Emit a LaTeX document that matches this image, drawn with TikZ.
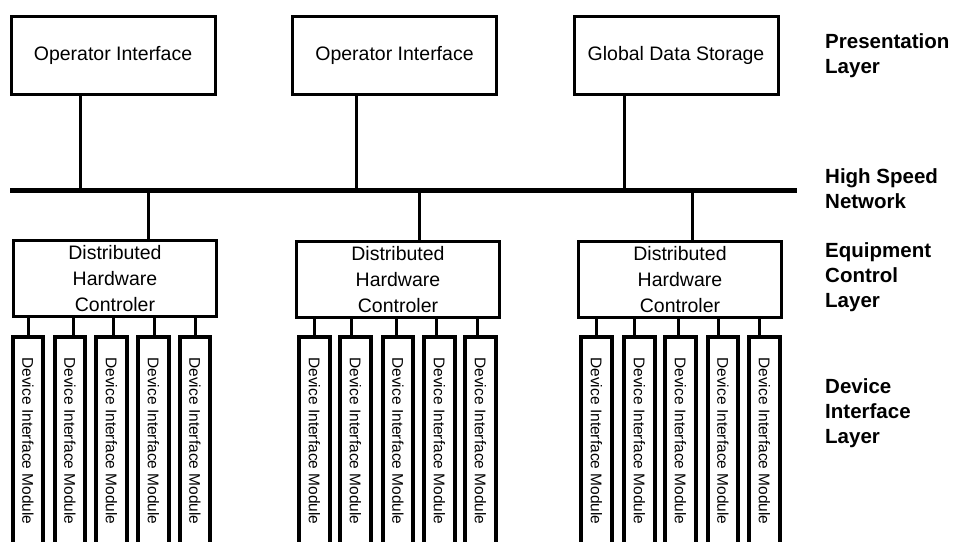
\documentclass[tikz,border=0pt]{standalone}
\usepackage{fontspec}
\setmainfont{Liberation Sans}
\begin{document}
\begin{tikzpicture}[x=1pt,y=-1pt,
  topbox/.style={draw, line width=3pt, minimum width=204pt, minimum height=78pt, inner sep=0pt,
    font=\fontsize{19.5}{24}\selectfont},
  ctrlbox/.style={draw, line width=3pt, minimum width=203pt, minimum height=76pt, inner sep=0pt,
    align=center, font=\fontsize{19.5}{26}\selectfont},
  modbox/.style={draw, line width=4pt, rotate=-90, minimum width=208pt, minimum height=30.5pt,
    inner sep=0pt, font=\fontsize{15.5}{18}\selectfont},
  link/.style={line width=3pt},
  bus/.style={line width=5pt},
  layerlbl/.style={anchor=base west, align=left, inner sep=0pt,
    font=\fontsize{20.5}{25}\selectfont\bfseries}]
\useasboundingbox (0,0) rectangle (956,541);
\clip (0,0) rectangle (956,541);
\fill[white] (0,0) rectangle (956,541);

% top boxes
\node[topbox] (t1) at (113,55.5) {Operator Interface};
\node[topbox] (t2) at (394.5,55.5) {Operator Interface};
\node[topbox] (t3) at (676,55.5) {Global Data Storage};

% bus
\coordinate (busL) at (10,190);
\coordinate (busR) at (797,190);
\draw[bus] (busL) -- (busR);

\coordinate (u1) at (80,190);
\coordinate (u2) at (356,190);
\coordinate (u3) at (624,190);
\draw[link] (u1 |- t1.south) -- (u1);
\draw[link] (u2 |- t2.south) -- (u2);
\draw[link] (u3 |- t3.south) -- (u3);

% controllers
\node[ctrlbox] (c1) at (115,278.5) {Distributed\\Hardware\\Controler};
\node[ctrlbox] (c2) at (398,279.5) {Distributed\\Hardware\\Controler};
\node[ctrlbox] (c3) at (680,279.5) {Distributed\\Hardware\\Controler};

\coordinate (d1) at (148,190);
\coordinate (d2) at (419,190);
\coordinate (d3) at (692,190);
\draw[link] (d1) -- (d1 |- c1.north);
\draw[link] (d2) -- (d2 |- c2.north);
\draw[link] (d3) -- (d3 |- c3.north);

% modules
\foreach \c/\mx/\lx [count=\i] in {
  1/28/28.5, 1/70/73, 1/111.5/113, 1/153.5/154, 1/195/195,
  2/314.5/314, 2/355.5/351, 2/398/396, 2/439.5/436, 2/480.5/477,
  3/596.5/596, 3/639.5/634, 3/680.5/678, 3/723/718, 3/764.5/759}{
  \node[modbox] (m\i) at (\mx,441) {Device Interface Module};
  \coordinate (k\i) at (\lx,300);
  \draw[link] (k\i |- c\c.south) -- (k\i |- m\i.west);
}

% layer labels (anchor = baseline of the last line)
\node[layerlbl] (l1) at (825,73) {Presentation\\Layer};
\node[layerlbl] (l2) at (825,208) {High Speed\\Network};
\node[layerlbl] (l3) at (825,307) {Equipment\\Control\\Layer};
\node[layerlbl] (l4) at (825,443) {Device\\Interface\\Layer};
\end{tikzpicture}
\end{document}
